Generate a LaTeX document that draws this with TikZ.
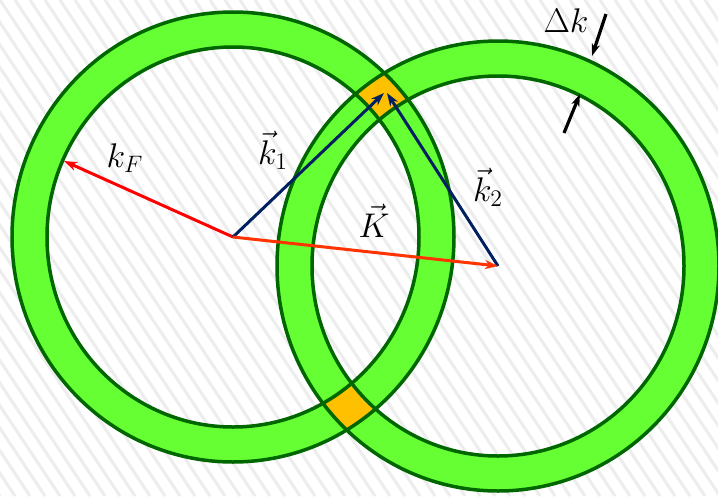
\documentclass[tikz,border=0pt]{standalone}
\usetikzlibrary{arrows.meta}
\definecolor{ringgreen}{HTML}{66FF33}
\definecolor{ringedge}{HTML}{006600}
\definecolor{overlap}{HTML}{FFC000}
\definecolor{navy}{HTML}{002060}
\definecolor{kred}{HTML}{FF0000}
\definecolor{Kred}{HTML}{FF3300}
\definecolor{hatchgrey}{HTML}{EDEDED}
\tikzset{
  hatch/.style={draw=hatchgrey, line width=3pt},
  ringedgestyle/.style={draw=ringedge, line width=3.5pt},
  vecarrow/.style={line width=3pt, -{Stealth[length=13pt,width=9pt,inset=4pt]}},
  dkarrow/.style={line width=3.2pt, black, -{Stealth[length=12pt,width=8pt,inset=3pt]}},
  lbl/.style={inner sep=0pt, font=\huge, scale=1.65, transform shape}
}
\begin{document}
\begin{tikzpicture}[x=1pt,y=-1pt]
\useasboundingbox (0,0) rectangle (718,496);
\fill[white] (0,0) rectangle (718,496);
\begin{scope}
  \clip (0,0) rectangle (718,496);
  \foreach \i in {-24,...,48} { \draw[hatch] (\i*15,0) -- ++(330,496); }
\end{scope}
\coordinate (O1) at (233,237);
\coordinate (O2) at (498,266);
% annuli
\fill[ringgreen, even odd rule] (O1) ellipse [x radius=221pt, y radius=225pt] (O1) ellipse [x radius=186pt, y radius=190pt];
\fill[ringgreen, even odd rule] (O2) ellipse [x radius=221pt, y radius=225pt] (O2) ellipse [x radius=186pt, y radius=190pt];
\begin{scope}[even odd rule]
  \clip (O1) ellipse [x radius=221pt, y radius=225pt] (O1) ellipse [x radius=186pt, y radius=190pt];
  \fill[overlap] (O2) ellipse [x radius=221pt, y radius=225pt] (O2) ellipse [x radius=186pt, y radius=190pt];
\end{scope}
\draw[ringedgestyle] (O1) ellipse [x radius=221pt, y radius=225pt];
\draw[ringedgestyle] (O1) ellipse [x radius=186pt, y radius=190pt];
\draw[ringedgestyle] (O2) ellipse [x radius=221pt, y radius=225pt];
\draw[ringedgestyle] (O2) ellipse [x radius=186pt, y radius=190pt];
% vectors
\coordinate (F) at (64,161);
\coordinate (P1) at (384,93);
\coordinate (P2) at (387,93);
\draw[vecarrow, kred] (O1) -- (F);
\draw[vecarrow, navy] (O1) -- (P1);
\draw[vecarrow, navy] (O2) -- (P2);
\draw[vecarrow, Kred] (O1) -- (O2);
% delta k arrows
\coordinate (D1s) at (606,14);
\coordinate (D1e) at (592,56);
\coordinate (D2s) at (564,133);
\coordinate (D2e) at (580,94);
\draw[dkarrow] (D1s) -- (D1e);
\draw[dkarrow] (D2s) -- (D2e);
% labels
\node[lbl] (lkF) at (125,158) {$k_F$};
\node[lbl] (lk1) at (273,150) {$\vec{k}_1$};
\node[lbl] (lk2) at (488,187) {$\vec{k}_2$};
\node[lbl] (lK) at (374,221) {$\vec{K}$};
\node[lbl] (ldk) at (566,21) {$\Delta k$};
\end{tikzpicture}
\end{document}
